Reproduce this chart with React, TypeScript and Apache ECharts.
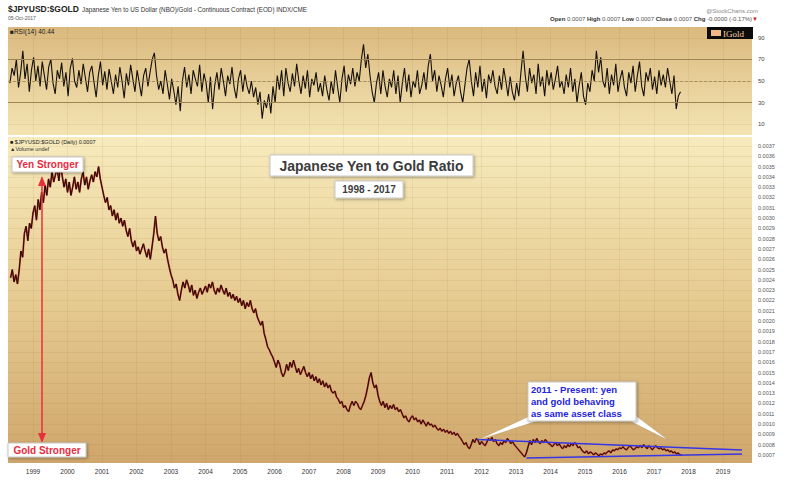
import React, { useEffect, useRef } from "react";
import * as echarts from "echarts";

// ---------- data ----------
const yearLabels = [1999, 2000, 2001, 2002, 2003, 2004, 2005, 2006, 2007, 2008, 2009, 2010, 2011, 2012, 2013, 2014, 2015, 2016, 2017, 2018, 2019];
const priceTicks = [0.0007, 0.0008, 0.0009, 0.001, 0.0011, 0.0012, 0.0013, 0.0014, 0.0015, 0.0016, 0.0017, 0.0018, 0.0019, 0.002, 0.0021, 0.0022, 0.0023, 0.0024, 0.0025, 0.0026, 0.0027, 0.0028, 0.0029, 0.003, 0.0031, 0.0032, 0.0033, 0.0034, 0.0035, 0.0036, 0.0037];
const rsiTicks = [10, 30, 50, 70, 90];

const ratioStart = 1998.35;
const ratioStep = 0.05;
const ratioValues = [
  // 1998
  0.00242, 0.0025, 0.00238, 0.00245, 0.00236, 0.0025, 0.00268, 0.00262, 0.00285, 0.00292, 0.00278, 0.00295, 0.0029,
  // 1999
  0.00305, 0.00312, 0.00298, 0.00318, 0.00308, 0.00325, 0.00315, 0.00332, 0.00322, 0.00338, 0.0033, 0.00345, 0.00335, 0.00342, 0.00348, 0.00336, 0.00352, 0.0034, 0.0033, 0.00338,
  // 2000
  0.00325, 0.00335, 0.00322, 0.0033, 0.0034, 0.00328, 0.00335, 0.00325, 0.00338, 0.00345, 0.00332, 0.0034, 0.00328, 0.00336, 0.00342, 0.00335, 0.00345, 0.0034, 0.0035, 0.00338,
  // 2001
  0.0033, 0.00322, 0.00315, 0.0032, 0.00308, 0.00312, 0.00302, 0.00308, 0.00298, 0.00305, 0.00295, 0.003, 0.00292, 0.00298, 0.00288, 0.00282, 0.0029, 0.00278, 0.00272, 0.00278,
  // 2002
  0.00268, 0.00272, 0.00265, 0.0027, 0.00275, 0.00268, 0.00262, 0.0027, 0.0026, 0.00272, 0.00285, 0.00302, 0.00285, 0.00278, 0.00282, 0.00272, 0.00266, 0.0027, 0.0026, 0.00252,
  // 2003
  0.00245, 0.0024, 0.00232, 0.00236, 0.00226, 0.0022, 0.0023, 0.00238, 0.00232, 0.0024, 0.00235, 0.00228, 0.00235, 0.00225, 0.0023, 0.00222, 0.00228, 0.00232, 0.00226, 0.0023,
  // 2004
  0.00234, 0.00228, 0.00236, 0.00232, 0.00238, 0.0023, 0.00226, 0.00232, 0.00228, 0.00235, 0.0023, 0.00226, 0.00232, 0.00224, 0.00228, 0.00222, 0.00226, 0.0022, 0.00224, 0.00218,
  // 2005
  0.00222, 0.00215, 0.0022, 0.00212, 0.00218, 0.00214, 0.0022, 0.00212, 0.00208, 0.00212, 0.00204, 0.002, 0.00196, 0.002, 0.00188, 0.00182, 0.00175, 0.00172, 0.00168, 0.00165,
  // 2006
  0.0016, 0.00155, 0.00162, 0.00158, 0.0015, 0.00146, 0.0015, 0.00158, 0.00152, 0.0016, 0.00155, 0.00162, 0.00156, 0.0015, 0.00154, 0.00148, 0.00152, 0.00156, 0.0015, 0.00146,
  // 2007
  0.0015, 0.00144, 0.00148, 0.00142, 0.00146, 0.0014, 0.00144, 0.00138, 0.00142, 0.00136, 0.0014, 0.00135, 0.00138, 0.00132, 0.0013, 0.00132, 0.00126, 0.00124, 0.0012, 0.00122,
  // 2008
  0.00116, 0.00118, 0.00114, 0.00112, 0.00118, 0.00122, 0.00118, 0.00122, 0.0012, 0.00116, 0.00114, 0.00118, 0.00122, 0.00128, 0.00136, 0.00145, 0.0015, 0.0014, 0.00135, 0.00138,
  // 2009
  0.00128, 0.00122, 0.00118, 0.00122, 0.00116, 0.0012, 0.00114, 0.00118, 0.00115, 0.00119, 0.00114, 0.00116, 0.00112, 0.00114, 0.0011, 0.00106, 0.00108, 0.00104, 0.00102, 0.00106,
  // 2010
  0.00108, 0.00104, 0.00106, 0.00102, 0.00104, 0.001, 0.00104, 0.00101, 0.00098, 0.00102, 0.00099, 0.001, 0.00097, 0.00099, 0.00096, 0.00094, 0.00096, 0.00093, 0.00095, 0.00092,
  // 2011
  0.00094, 0.00091, 0.00093, 0.0009, 0.00092, 0.00089, 0.00091, 0.00088, 0.00086, 0.00083, 0.0008, 0.00082, 0.00078, 0.00076, 0.0008, 0.00085, 0.00082, 0.00086, 0.00084, 0.0008,
  // 2012
  0.00083, 0.00081, 0.00079, 0.00082, 0.00086, 0.00084, 0.00087, 0.00083, 0.00085, 0.00081, 0.00079, 0.00082, 0.0008, 0.00084, 0.00082, 0.00086, 0.00084, 0.00081, 0.00083, 0.0008,
  // 2013
  0.00078, 0.00076, 0.00074, 0.00072, 0.0007, 0.00068, 0.00072, 0.00078, 0.00084, 0.0008, 0.00085, 0.00082, 0.00086, 0.00083, 0.00081, 0.00084, 0.00082, 0.00085, 0.00083, 0.00081,
  // 2014
  0.0008, 0.00078, 0.0008, 0.00082, 0.00079, 0.00081, 0.00078, 0.00076, 0.00079, 0.00077, 0.0008, 0.00078, 0.00081, 0.00079, 0.00082, 0.0008, 0.00077, 0.00078, 0.00075, 0.00073,
  // 2015
  0.00072, 0.00074, 0.00071, 0.00073, 0.00072, 0.0007, 0.00072, 0.00071, 0.00069, 0.00071, 0.0007, 0.00072, 0.00071, 0.00073, 0.00074, 0.00072, 0.00075, 0.00074, 0.00076, 0.00075,
  // 2016
  0.00077, 0.00076, 0.00078, 0.00076, 0.00075, 0.00077, 0.00079, 0.00077, 0.00075, 0.00076, 0.00078, 0.00077, 0.00079, 0.00077, 0.0008, 0.00078, 0.00076, 0.00079, 0.00077, 0.00075,
  // 2017
  0.00077, 0.00079, 0.00077, 0.00076, 0.00077, 0.00075, 0.00076, 0.00074, 0.00075, 0.00073, 0.00074, 0.00072, 0.00073, 0.00071, 0.00072, 0.0007, 0.0007,
];

const rsiStart = 1998.33;
const rsiStep = 0.0625;
const rsiValues = [
  48, 62, 55, 70, 44, 58, 78, 52, 66, 40, 60, 72, 50, 64, 45, 68,
  55, 42, 63, 70, 48, 38, 60, 52, 67, 45, 58, 36, 62, 71, 50, 44,
  60, 47, 66, 53, 40, 58, 64, 49, 35, 55, 68, 46, 59, 42, 61, 50,
  38, 56, 44, 63, 50, 34, 57, 46, 65, 52, 40, 60, 48, 36, 55, 62,
  45, 58, 70, 76, 55, 42, 50, 38, 60, 47, 33, 52, 41, 28, 45, 22,
  50, 63, 44, 56, 38, 60, 52, 45, 65, 40, 57, 48, 30, 54, 24, 46,
  58, 42, 62, 50, 36, 55, 47, 63, 44, 34, 52, 60, 40, 56, 45, 38,
  50, 35, 44, 28, 40, 15, 32, 25, 38, 20, 45, 30, 55, 42, 60, 36,
  62, 48, 40, 57, 45, 66, 50, 38, 55, 43, 60, 35, 52, 46, 58, 40,
  48, 36, 55, 42, 32, 50, 38, 60, 44, 30, 52, 64, 40, 56, 47, 62,
  45, 58, 50, 70, 84, 62, 75, 55, 40, 30, 48, 58, 38, 60, 45, 35,
  52, 44, 60, 38, 55, 30, 48, 62, 40, 56, 35, 50, 44, 60, 38, 46,
  58, 42, 64, 75, 50, 60, 40, 55, 46, 35, 52, 62, 44, 56, 36, 48,
  55, 40, 30, 46, 62, 70, 50, 36, 58, 44, 64, 40, 52, 34, 56, 48,
  60, 45, 38, 55, 42, 62, 50, 36, 54, 40, 32, 48, 36, 58, 78, 55,
  40, 62, 48, 56, 38, 66, 45, 54, 36, 60, 46, 58, 42, 52, 64, 44,
  50, 38, 56, 44, 62, 40, 52, 30, 46, 58, 36, 28, 48, 40, 60, 50,
  78, 58, 72, 50, 44, 62, 38, 56, 46, 66, 40, 52, 60, 44, 36, 58,
  48, 64, 40, 55, 68, 45, 36, 58, 50, 62, 42, 54, 38, 60, 46, 56,
  44, 62, 50, 38, 55, 24, 36, 40,
];

const trendUpper = [[2011.87, 0.00085], [2019.55, 0.000749]];
const trendLower = [[2013.3, 0.00067], [2019.55, 0.00071]];

const xMin = 1998.275;
const xMax = 2019.84;
const yMin = 0.000622;
const yMax = 0.003787;

const FONT = "Arial, 'Liberation Sans', sans-serif";

function txt(x: number, y: number, text: string, opts: any = {}) {
  return {
    type: "text",
    x,
    y,
    z: 100,
    silent: true,
    style: {
      text,
      fill: opts.fill || "#333",
      fontSize: opts.fontSize || 7,
      fontWeight: opts.fontWeight || "normal",
      fontFamily: opts.fontFamily || FONT,
      textAlign: opts.align || "left",
      align: opts.align || "left",
      textVerticalAlign: "middle",
      verticalAlign: "middle",
      rich: opts.rich,
    },
  };
}

function box(x: number, y: number, w: number, h: number) {
  return {
    type: "rect",
    z: 90,
    silent: true,
    shape: { x, y, width: w, height: h },
    style: { fill: "#ffffff", stroke: "#c8c8c8", lineWidth: 1, shadowBlur: 3, shadowColor: "rgba(0,0,0,0.35)", shadowOffsetX: 1, shadowOffsetY: 1 },
  };
}

function buildOption() {
  const ratioData = ratioValues.map((v, i) => [ratioStart + i * ratioStep, v]);
  const rsiData = rsiValues.map((v, i) => [rsiStart + i * rsiStep, v]);

  const rsiBg = new echarts.graphic.LinearGradient(0, 0, 0, 1, [
    { offset: 0, color: "#dbb97e" },
    { offset: 1, color: "#f3e4b3" },
  ]);
  const mainBg = new echarts.graphic.LinearGradient(0, 0, 0, 1, [
    { offset: 0, color: "#f7ebbd" },
    { offset: 0.5, color: "#e6cb91" },
    { offset: 1, color: "#cfa66b" },
  ]);
  const gridLine = { show: true, lineStyle: { color: "rgba(150,115,55,0.18)", width: 0.6 } };

  return {
    animation: false,
    backgroundColor: "#ffffff",
    grid: [
      { left: 8, right: 36, top: 27, height: 108, show: true, backgroundColor: rsiBg, borderWidth: 0 },
      { left: 8, right: 36, top: 137, height: 326, show: true, backgroundColor: mainBg, borderWidth: 0 },
    ],
    xAxis: [
      {
        gridIndex: 0, type: "value", min: xMin, max: xMax,
        axisLine: { show: false },
        axisTick: { show: false, customValues: yearLabels },
        axisLabel: { show: false, customValues: yearLabels },
        splitLine: gridLine,
      },
      {
        gridIndex: 1, type: "value", min: xMin, max: xMax,
        axisLine: { show: false },
        axisTick: { show: false, customValues: yearLabels },
        axisLabel: { show: true, customValues: yearLabels, fontSize: 6.5, color: "#333", margin: 5, fontFamily: FONT, formatter: (v: number) => String(Math.round(v)) },
        splitLine: gridLine,
      },
    ],
    yAxis: [
      {
        gridIndex: 0, type: "value", position: "right", min: 0, max: 100,
        axisLine: { show: false },
        axisTick: { show: false, customValues: rsiTicks },
        axisLabel: { customValues: rsiTicks, fontSize: 6, color: "#444", margin: 6, fontFamily: FONT },
        splitLine: gridLine,
      },
      {
        gridIndex: 1, type: "value", position: "right", min: yMin, max: yMax,
        axisLine: { show: false },
        axisTick: { show: false, customValues: priceTicks },
        axisLabel: { customValues: priceTicks, fontSize: 5.5, color: "#555", margin: 6, fontFamily: FONT, formatter: (v: number) => v.toFixed(4) },
        splitLine: gridLine,
      },
    ],
    series: [
      {
        type: "line", xAxisIndex: 0, yAxisIndex: 0, data: rsiData, showSymbol: false, silent: true,
        lineStyle: { color: "#141008", width: 1.1 },
        markLine: {
          silent: true, symbol: "none", label: { show: false },
          data: [
            { yAxis: 70, lineStyle: { color: "#9c8455", width: 1, type: "solid" } },
            { yAxis: 30, lineStyle: { color: "#9c8455", width: 1, type: "solid" } },
            { yAxis: 50, lineStyle: { color: "#9c8455", width: 0.8, type: "dashed" } },
          ],
        },
      },
      {
        type: "line", xAxisIndex: 1, yAxisIndex: 1, data: ratioData, showSymbol: false, silent: true,
        lineStyle: { color: "#c23a30", width: 1.8 },
      },
      {
        type: "line", xAxisIndex: 1, yAxisIndex: 1, data: ratioData, showSymbol: false, silent: true,
        lineStyle: { color: "#1c0c06", width: 1 },
      },
      {
        type: "line", xAxisIndex: 1, yAxisIndex: 1, data: trendUpper, showSymbol: false, silent: true,
        lineStyle: { color: "#3636e6", width: 1.5 },
      },
      {
        type: "line", xAxisIndex: 1, yAxisIndex: 1, data: trendLower, showSymbol: false, silent: true,
        lineStyle: { color: "#3636e6", width: 1.5 },
      },
    ],
    graphic: [
      // header
      txt(8, 9, "$JPYUSD:$GOLD", { fontSize: 8.5, fontWeight: "bold", fill: "#222" }),
      txt(82, 9, "Japanese Yen to US Dollar (NBO)/Gold - Continuous Contract (EOD) INDX/CME", { fontSize: 6.3, fill: "#333" }),
      txt(8, 18, "05-Oct-2017", { fontSize: 5, fill: "#555" }),
      txt(758, 11, "@StockCharts.com", { fontSize: 6, fill: "#888", align: "right" }),
      txt(758, 19, "{b|Open} 0.0007 {b|High} 0.0007 {b|Low} 0.0007 {b|Close} 0.0007 {b|Chg} -0.0000 (-0.17%){r|▼}", {
        fontSize: 6, fill: "#555", align: "right",
        rich: { b: { fontWeight: "bold", fontSize: 6, fill: "#333", fontFamily: FONT }, r: { fill: "#d02020", fontSize: 6 } },
      }),
      // RSI panel label
      txt(10, 31, "■RSI(14) 40.44", { fontSize: 6.5, fill: "#222" }),
      // IGold legend
      { type: "rect", z: 95, silent: true, shape: { x: 707, y: 27, width: 46, height: 12 }, style: { fill: "#0c0c0c" } },
      { type: "rect", z: 96, silent: true, shape: { x: 711, y: 30, width: 10, height: 6 }, style: { fill: "#f2b889" } },
      txt(723, 33.5, "IGold", { fontSize: 9, fill: "#f6cda4", fontFamily: "'Liberation Serif', serif" }),
      // main panel legend
      txt(10, 142, "■ $JPYUSD:$GOLD (Daily) 0.0007", { fontSize: 5.5, fill: "#222" }),
      txt(10, 149, "▲Volume undef", { fontSize: 5.5, fill: "#333" }),
      // title
      box(270, 155, 203, 21),
      txt(371.5, 165.5, "Japanese Yen to Gold Ratio", { fontSize: 14, fontWeight: "bold", fill: "#3c3c3c", align: "center" }),
      box(335, 181, 68, 17),
      txt(369, 189.5, "1998 - 2017", { fontSize: 10, fontWeight: "bold", fill: "#3c3c3c", align: "center" }),
      // Yen stronger / Gold stronger
      box(12, 157, 71, 15),
      txt(47.5, 164.5, "Yen Stronger", { fontSize: 10, fontWeight: "bold", fill: "#ea2a40", align: "center" }),
      box(8, 443, 78, 14),
      txt(47, 450, "Gold Stronger", { fontSize: 10, fontWeight: "bold", fill: "#ea2a40", align: "center" }),
      // red double arrow
      { type: "line", z: 80, silent: true, shape: { x1: 42, y1: 184, x2: 42, y2: 436 }, style: { stroke: "#e8303a", lineWidth: 1.5 } },
      { type: "polygon", z: 80, silent: true, shape: { points: [[42, 176], [38, 186], [46, 186]] }, style: { fill: "#e8303a" } },
      { type: "polygon", z: 80, silent: true, shape: { points: [[42, 443], [38, 433], [46, 433]] }, style: { fill: "#e8303a" } },
      // callout
      { type: "polygon", z: 85, silent: true, shape: { points: [[530, 416], [540, 420], [478, 440]] }, style: { fill: "#ffffff", stroke: "rgba(0,0,0,0.15)", lineWidth: 0.5 } },
      { type: "polygon", z: 85, silent: true, shape: { points: [[626, 419], [636, 416], [668, 440]] }, style: { fill: "#ffffff", stroke: "rgba(0,0,0,0.15)", lineWidth: 0.5 } },
      box(528, 382, 108, 39),
      txt(531, 389, "2011 - Present: yen", { fontSize: 9.5, fontWeight: "bold", fill: "#2424e0" }),
      txt(531, 401, "and gold behaving", { fontSize: 9.5, fontWeight: "bold", fill: "#2424e0" }),
      txt(531, 413, "as same asset class", { fontSize: 9.5, fontWeight: "bold", fill: "#2424e0" }),
    ],
  };
}

export default function App() {
  const ref = useRef<HTMLDivElement>(null);
  useEffect(() => {
    if (!ref.current) return;
    const chart = echarts.init(ref.current, null, { renderer: "svg" });
    chart.setOption(buildOption() as any);
    return () => chart.dispose();
  }, []);
  return <div ref={ref} style={{ position: "fixed", left: 0, top: 0, width: 788, height: 483 }} />;
}
